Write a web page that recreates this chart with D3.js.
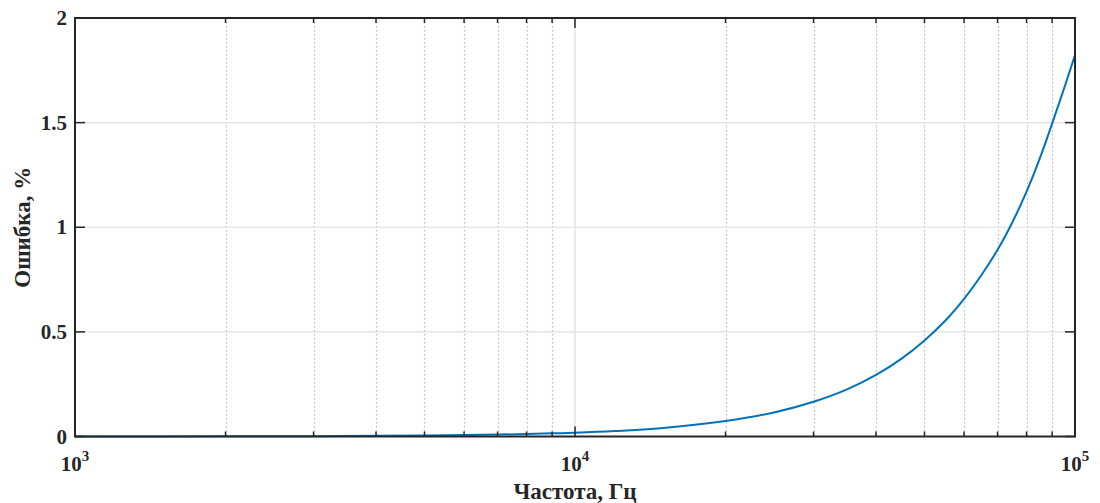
<!DOCTYPE html>
<html><head><meta charset="utf-8">
<script src="https://cdn.jsdelivr.net/npm/d3@7"></script>
<style>body{margin:0;background:#fff}svg{display:block}text{font-family:"Liberation Serif","Times New Roman",serif;font-weight:bold;fill:#262626}</style>
</head><body><svg id="c" width="1100" height="503"></svg>
<script>
const freqs = [1000,2000,3000,4000,5000,6000,7000,8000,9000,10000,12000,15000,20000,25000,30000,35000,40000,45000,50000,55000,60000,65000,70000,75000,80000,85000,90000,95000,100000];
const errors = [0.0002,0.0007,0.0016,0.003,0.0046,0.0066,0.009,0.012,0.015,0.018,0.026,0.041,0.074,0.115,0.166,0.225,0.294,0.372,0.459,0.553,0.658,0.772,0.892,1.025,1.17,1.328,1.495,1.66,1.823];
const yTicks = [0,0.5,1,1.5,2];
const yTickLabels = ["0","0.5","1","1.5","2"];
const xMajor = [1000,10000,100000];
const xMajorExp = ["3","4","5"];
const xLabel = "Частота, Гц";
const yLabel = "Ошибка, %";

const svg = d3.select("#c");
const L=75,R=1075,T=18,B=436.5;
const x = d3.scaleLog().domain([1e3,1e5]).range([L,R]);
const y = d3.scaleLinear().domain([0,2]).range([B,T]);
const minor = [];
[1e3,1e4].forEach(d=>{for(let k=2;k<=9;k++) minor.push(d*k);});

const g = svg.append("g");
g.selectAll(".mg").data(minor).enter().append("line")
 .attr("x1",d=>Math.round(x(d))+0.5).attr("x2",d=>Math.round(x(d))+0.5).attr("y1",T).attr("y2",B)
 .attr("stroke","#b8b8b8").attr("stroke-width",1.2).attr("stroke-dasharray","1.5,2.5");
g.selectAll(".Mg").data([10000]).enter().append("line")
 .attr("x1",d=>x(d)).attr("x2",d=>x(d)).attr("y1",T).attr("y2",B)
 .attr("stroke","#dedede").attr("stroke-width",1.2);
g.selectAll(".yg").data(yTicks.slice(1,-1)).enter().append("line")
 .attr("x1",L).attr("x2",R).attr("y1",d=>y(d)).attr("y2",d=>y(d))
 .attr("stroke","#dedede").attr("stroke-width",1.2);

const pts = freqs.map((f,i)=>[x(f),y(errors[i])]);
svg.append("path").attr("d",d3.line().curve(d3.curveCatmullRom.alpha(0.5))(pts))
 .attr("fill","none").attr("stroke","#0072BD").attr("stroke-width",2);

const ax = svg.append("g").attr("stroke","#262626").attr("stroke-width",1.5);
minor.forEach(d=>{const xx=x(d);
 ax.append("line").attr("x1",xx).attr("x2",xx).attr("y1",B).attr("y2",B-5);
 ax.append("line").attr("x1",xx).attr("x2",xx).attr("y1",T).attr("y2",T+5);});
xMajor.forEach(d=>{const xx=x(d);
 ax.append("line").attr("x1",xx).attr("x2",xx).attr("y1",B).attr("y2",B-10);
 ax.append("line").attr("x1",xx).attr("x2",xx).attr("y1",T).attr("y2",T+10);});
yTicks.forEach(d=>{const yy=y(d);
 ax.append("line").attr("x1",L).attr("x2",L+10).attr("y1",yy).attr("y2",yy);
 ax.append("line").attr("x1",R).attr("x2",R-10).attr("y1",yy).attr("y2",yy);});
svg.append("rect").attr("x",L).attr("y",T).attr("width",R-L).attr("height",B-T)
 .attr("fill","none").attr("stroke","#262626").attr("stroke-width",2);

svg.selectAll(".yl").data(yTicks).enter().append("text")
 .attr("x",L-8).attr("y",d=>y(d)+7).attr("text-anchor","end").attr("font-size",21)
 .text((d,i)=>yTickLabels[i]);
xMajor.forEach((d,i)=>{
 const t = svg.append("text").attr("x",x(d)).attr("y",471).attr("text-anchor","middle").attr("font-size",21);
 t.append("tspan").text("10");
 t.append("tspan").attr("dy",-10).attr("font-size",15).text(xMajorExp[i]);
});
svg.append("text").attr("x",(L+R)/2).attr("y",499).attr("text-anchor","middle").attr("font-size",23).text(xLabel);
svg.append("text").attr("transform",`translate(30,${(T+B)/2}) rotate(-90)`).attr("text-anchor","middle").attr("font-size",23).text(yLabel);
</script></body></html>
